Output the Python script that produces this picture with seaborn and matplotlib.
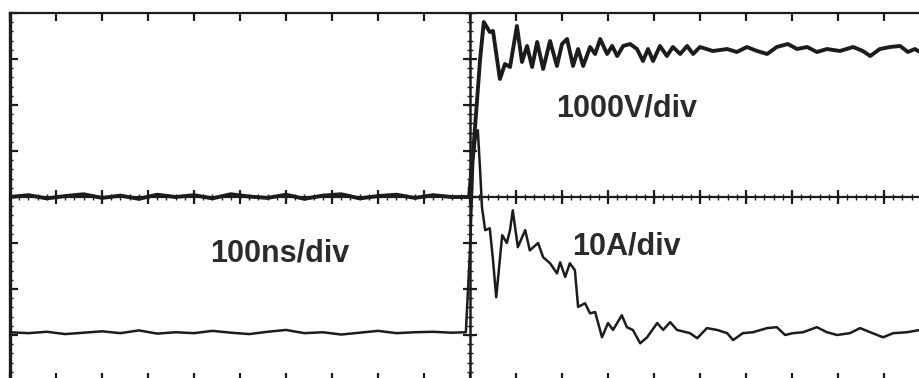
import numpy as np
import pandas as pd
import matplotlib
matplotlib.use("Agg")
import matplotlib.pyplot as plt
import seaborn as sns

# Осцилограма вмикання: напруга (1000 В/под) і струм (10 А/под), 100 нс/под

# --- напруга, час у нс, значення у В ---
v_time = [-1000, -960, -920, -880, -840, -800, -760, -720, -680, -640,
          -600, -560, -520, -480, -440, -400, -360, -320, -280, -240,
          -200, -160, -120, -80, -40, -2, 9, 22, 30, 43,
          50, 65, 76, 87, 102, 113, 124, 135, 146, 159,
          174, 189, 200, 211, 224, 235, 246, 261, 272, 283,
          298, 309, 320, 333, 348, 363, 376, 387, 398, 413,
          428, 441, 457, 472, 485, 500, 528, 559, 580, 602,
          624, 646, 667, 691, 711, 733, 754, 776, 804, 833,
          854, 870, 891, 913, 935, 952, 967, 978]
v_volts = [0, 40, -30, 20, 60, -20, 30, -40, 50, 0,
           40, -30, 60, 10, -20, 50, -40, 30, 60, -30,
           20, 50, -20, 40, 0, 0, 1261, 3000, 3804, 3587,
           3609, 2565, 2891, 2826, 3717, 2935, 3283, 2826, 3370, 2783,
           3391, 2848, 3326, 3435, 2848, 3217, 2848, 3261, 3109, 3435,
           3109, 3283, 3065, 3283, 3326, 3217, 2957, 3217, 2957, 3283,
           3065, 3261, 3109, 3283, 3109, 3261, 3174, 3217, 3152, 3261,
           3174, 3109, 3261, 3326, 3217, 3261, 3152, 3217, 3174, 3261,
           3174, 3065, 3217, 3261, 3283, 3152, 3217, 3152]

# --- струм, час у нс, значення у А ---
i_time = [-1000, -960, -920, -880, -840, -800, -760, -720, -680, -640,
          -600, -560, -520, -480, -440, -400, -360, -320, -280, -240,
          -200, -160, -120, -80, -40, -9, 0, 7, 13, 17,
          22, 26, 33, 43, 50, 57, 70, 80, 87, 93,
          104, 120, 130, 148, 159, 174, 189, 196, 207, 217,
          228, 235, 250, 261, 272, 287, 300, 311, 330, 341,
          354, 370, 385, 407, 420, 435, 450, 478, 494, 515,
          537, 559, 572, 593, 615, 646, 667, 685, 702, 724,
          754, 776, 798, 826, 848, 870, 898, 920, 950, 978]
i_amps = [0.2, 0.0, 0.3, -0.2, 0.1, 0.4, 0.0, 0.6, -0.1, 0.2,
          0.0, 0.5, 0.1, -0.2, 0.3, 0.7, 0.0, 0.2, -0.3, 0.1,
          0.5, 0.0, 0.2, 0.3, 0.1, 0.2, 18.0, 37.6, 43.0, 44.1,
          35.4, 27.4, 22.4, 22.8, 15.9, 7.8, 21.3, 19.6, 22.4, 26.7,
          18.7, 22.4, 18.0, 19.6, 16.5, 15.2, 13.0, 15.4, 12.2, 15.2,
          13.7, 5.7, 6.5, 4.3, 4.6, -0.9, 2.2, 0.7, 3.9, 1.3,
          0.7, -2.2, -0.9, 2.2, 0.7, 2.4, 0.7, 0.0, -1.1, 1.1,
          0.7, 0.0, -1.5, 0.0, 0.2, 1.1, 1.3, -0.4, 0.0, 0.2,
          1.3, 0.2, -0.4, 0.0, 1.1, 0.2, -0.9, 0.0, 0.2, 0.7]

labels = ["1000V/div", "100ns/div", "10A/div"]

VOLT_PER_DIV = 1000
AMP_PER_DIV = 10
CURRENT_ZERO_DIV = -2.96
INK = "#1c1c1c"

v_df = pd.DataFrame({"t": v_time, "div": np.array(v_volts) / VOLT_PER_DIV})
i_df = pd.DataFrame({"t": i_time,
                     "div": np.array(i_amps) / AMP_PER_DIV + CURRENT_ZERO_DIV})

sns.set_style("white")
plt.rcParams["font.family"] = ["Liberation Sans", "DejaVu Sans"]

fig = plt.figure(figsize=(9.2, 3.78), dpi=100)
ax = fig.add_axes([10 / 920, -3 / 378, 920 / 920, 368 / 378])
ax.set_xlim(-1000, 1000)
ax.set_ylim(-4, 4)

# рамка
for side in ["left", "top", "right", "bottom"]:
    ax.spines[side].set_color(INK)
ax.spines["left"].set_linewidth(2.4)
ax.spines["top"].set_linewidth(1.6)

ax.set_xticks(np.arange(-1000, 1001, 100))
ax.set_yticks(np.arange(-4, 5, 1))
ax.set_xticks(np.arange(-1000, 1001, 20), minor=True)
ax.set_yticks(np.arange(-4, 4.01, 0.2), minor=True)
ax.tick_params(which="major", direction="in", length=6, width=1.6, color=INK,
               top=True, bottom=True, left=True, right=True,
               labelbottom=False, labelleft=False)
ax.tick_params(which="minor", direction="in", length=2, width=1, color=INK,
               top=False, bottom=True, left=True, right=False)

# центральні осі сітки
ax.axhline(0, color=INK, lw=1.6, zorder=2)
ax.axvline(0, color=INK, lw=1.8, zorder=2)
gx_major = np.arange(-1000, 1001, 100)
gx_minor = np.arange(-1000, 1001, 20)
gy_major = np.arange(-4, 5, 1)
gy_minor = np.arange(-4, 4.01, 0.2)
ax.plot(gx_major, np.zeros_like(gx_major), ls="none", marker="|", ms=10,
        mew=1.6, color=INK, zorder=2)
ax.plot(gx_minor, np.zeros_like(gx_minor), ls="none", marker="|", ms=4,
        mew=1, color=INK, zorder=2)
ax.plot(np.zeros_like(gy_major), gy_major, ls="none", marker="_", ms=10,
        mew=1.6, color=INK, zorder=2)
ax.plot(np.zeros_like(gy_minor), gy_minor, ls="none", marker="_", ms=4,
        mew=1, color=INK, zorder=2)

# сигнали
sns.lineplot(data=v_df, x="t", y="div", ax=ax, sort=False, estimator=None,
             color=INK, lw=2.8, zorder=3, solid_joinstyle="round",
             solid_capstyle="round")
sns.lineplot(data=i_df, x="t", y="div", ax=ax, sort=False, estimator=None,
             color=INK, lw=1.8, zorder=3, solid_joinstyle="round",
             solid_capstyle="round")

ax.set_xlabel("")
ax.set_ylabel("")

txt = dict(fontsize=22, fontweight="bold", color="#2b2b2b", ha="center",
           va="baseline")
ax.text(341, 1.74, labels[0], **txt)
ax.text(-413, -1.41, labels[1], **txt)
ax.text(341, -1.26, labels[2], **txt)

fig.savefig("out.png", dpi=100)
